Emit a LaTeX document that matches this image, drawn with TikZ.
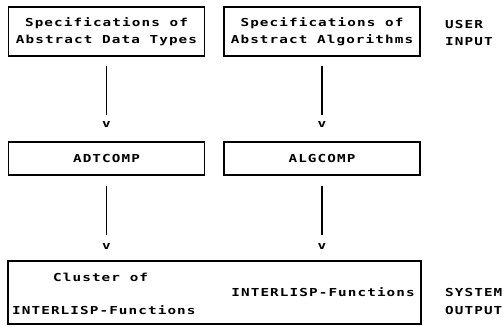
\documentclass[tikz,border=0pt]{standalone}
\usepackage{fontspec}
\newfontfamily\printer{DejaVu Sans Mono}[FakeStretch=1.3,LetterSpace=10]
\begin{document}
\begin{tikzpicture}[x=1pt,y=-1pt]
    \tikzstyle{typebox} = [draw, line width=1.5pt, inner sep=0pt, align=center, minimum width=196pt, font=\printer\bfseries\fontsize{11}{17}\selectfont]
    \tikzstyle{txt} = [inner sep=0pt, font=\printer\bfseries\fontsize{11}{17}\selectfont]
    \tikzstyle{conn} = [line width=1.7pt]
    \useasboundingbox (0,0) rectangle (504,326);
    % user input
    \node[typebox, minimum height=49pt] (adtspec) at (106.5,31.5) {Specifications of\\Abstract Data Types};
    \node[typebox, minimum height=49pt] (algspec) at (322,31.5) {Specifications of\\Abstract Algorithms};
    \node[txt, anchor=base west] (user) at (445,29) {USER};
    \node[txt, anchor=base west] (input) at (445,46) {INPUT};
    % compilers
    \node[txt] (tipa) at (106.5,124) {v};
    \node[txt] (tipb) at (322,124) {v};
    \node[typebox, minimum height=33pt] (adtcomp) at (106.5,158.5) {ADTCOMP};
    \node[typebox, minimum height=33pt] (algcomp) at (322,158.5) {ALGCOMP};
    \draw[conn, shorten <=9pt, shorten >=6pt] (adtspec) -- (tipa);
    \draw[conn, shorten <=9pt, shorten >=6pt] (algspec) -- (tipb);
    % system output
    \node[txt] (tipc) at (106.5,246) {v};
    \node[txt] (tipd) at (322,246) {v};
    \draw[conn, shorten <=10pt, shorten >=8pt] (adtcomp) -- (tipc);
    \draw[conn, shorten <=10pt, shorten >=8pt] (algcomp) -- (tipd);
    \node[draw, line width=1.5pt, minimum width=413pt, minimum height=63pt] (output) at (214.5,292.5) {};
    \node[txt, anchor=base west] (cluster) at (53,281) {Cluster of};
    \node[txt, anchor=base east] (ilfunb) at (415,297) {INTERLISP-Functions};
    \node[txt, anchor=base west] (ilfuna) at (12,314) {INTERLISP-Functions};
    \node[txt, anchor=base west] (system) at (445,297) {SYSTEM};
    \node[txt, anchor=base west] (outp) at (445,314) {OUTPUT};
\end{tikzpicture}
\end{document}
